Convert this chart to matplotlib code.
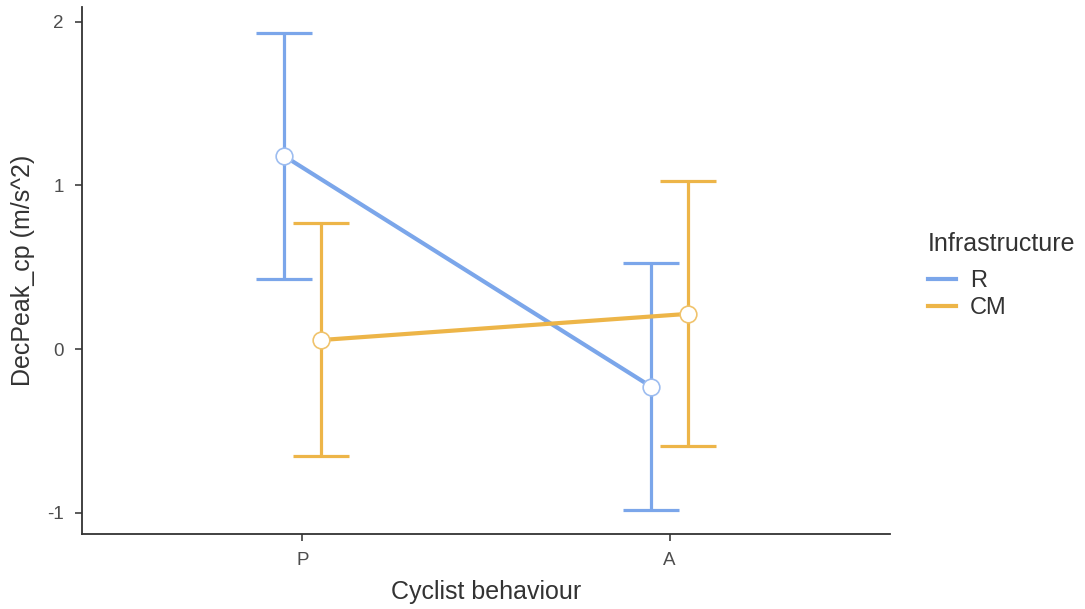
import matplotlib.pyplot as plt
import numpy as np

plt.rcParams['font.family'] = ['Liberation Sans', 'DejaVu Sans']

behaviour = ["P", "A"]
infrastructure = ["R", "CM"]
means = {"R": [1.18, -0.23], "CM": [0.055, 0.215]}
lower = {"R": [0.43, -0.985], "CM": [-0.655, -0.59]}
upper = {"R": [1.93, 0.525], "CM": [0.77, 1.025]}
colors = {"R": "#7BA6EA", "CM": "#EDB548"}
edge_colors = {"R": "#9DBDF0", "CM": "#F0C36C"}

fig = plt.figure(figsize=(10.85, 6.09), dpi=100)
ax = fig.add_axes([82/1085, 75/609, 808/1085, 527/609])

x = np.arange(len(behaviour))
dodge = {"R": -0.05, "CM": 0.05}
for inf in infrastructure:
    xs = x + dodge[inf]
    m = np.array(means[inf])
    lo = m - np.array(lower[inf])
    hi = np.array(upper[inf]) - m
    ax.errorbar(xs, m, yerr=[lo, hi], fmt="none", ecolor=colors[inf],
                elinewidth=2.3, capsize=20.5, capthick=2.3, zorder=2)
    ax.plot(xs, m, color=colors[inf], lw=3, label=inf, zorder=3)
    ax.plot(xs, m, "o", ms=12, mfc="white", mec=edge_colors[inf], mew=1.2, zorder=4)

ax.set_xlim(-0.6, 1.6)
ax.set_ylim(-1.13, 2.09)
ax.set_xticks(x)
ax.set_xticklabels(behaviour)
ax.set_yticks([-1, 0, 1, 2])
ax.set_yticklabels(["-1", "0", "1", "2"])
for s in ["top", "right"]:
    ax.spines[s].set_visible(False)
for s in ["left", "bottom"]:
    ax.spines[s].set_color("#333333")
    ax.spines[s].set_linewidth(1.3)
ax.tick_params(colors="#4d4d4d", labelsize=13.5, length=5, width=1.3, pad=8)
ax.set_xlabel("Cyclist behaviour", fontsize=18, color="#333333", labelpad=8)
ax.set_ylabel("DecPeak_cp (m/s^2)", fontsize=18, color="#333333", labelpad=9)

leg = ax.legend(title="Infrastructure", loc="center left", bbox_to_anchor=(1.035, 0.49),
                frameon=False, fontsize=17, title_fontsize=18, handlelength=1.2,
                handletextpad=0.6, labelspacing=0.2, borderaxespad=0)
leg._legend_box.align = "left"
leg._legend_box.sep = 10
for t in leg.get_texts():
    t.set_color("#333333")
leg.get_title().set_color("#333333")

fig.savefig("out.png", dpi=100)
